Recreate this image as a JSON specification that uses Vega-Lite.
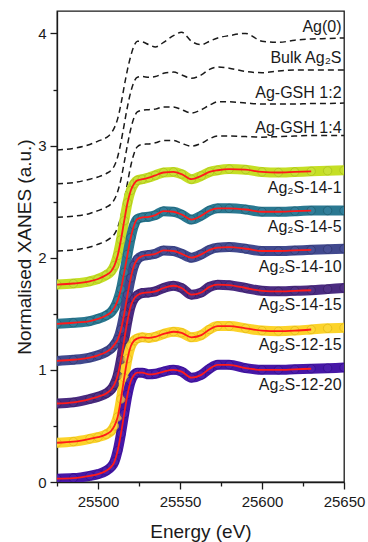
{
"$schema": "https://vega.github.io/schema/vega-lite/v6.json",
"width": 287, "height": 471,
"autosize": {"type": "none"},
"padding": {"left": 57, "top": 11, "right": 24, "bottom": 60},
"config": {
 "view": {"stroke": "#1a1a1a", "strokeWidth": 1.3},
 "axis": {"domainColor": "#1a1a1a", "domainWidth": 1.3, "tickColor": "#1a1a1a", "tickWidth": 1.3, "labelFont": "Liberation Sans", "labelFontSize": 15, "labelColor": "#1a1a1a", "titleFont": "Liberation Sans", "titleFontSize": 19, "titleFontWeight": "normal", "titleColor": "#1a1a1a", "grid": false}
},
"datasets": {
 "curves": [
{"s":"Ag(0)","E":25475,"y":2.96},{"s":"Ag(0)","E":25485,"y":2.975},{"s":"Ag(0)","E":25495,"y":3.01},{"s":"Ag(0)","E":25500,"y":3.04},{"s":"Ag(0)","E":25505,"y":3.07},{"s":"Ag(0)","E":25508,"y":3.11},{"s":"Ag(0)","E":25510,"y":3.16},{"s":"Ag(0)","E":25512,"y":3.24},{"s":"Ag(0)","E":25514,"y":3.37},{"s":"Ag(0)","E":25516,"y":3.53},{"s":"Ag(0)","E":25518,"y":3.68},{"s":"Ag(0)","E":25520,"y":3.80},{"s":"Ag(0)","E":25522,"y":3.89},{"s":"Ag(0)","E":25524,"y":3.93},{"s":"Ag(0)","E":25527,"y":3.925},{"s":"Ag(0)","E":25531,"y":3.90},{"s":"Ag(0)","E":25535,"y":3.88},{"s":"Ag(0)","E":25540,"y":3.92},{"s":"Ag(0)","E":25546,"y":3.98},{"s":"Ag(0)","E":25551,"y":4.01},{"s":"Ag(0)","E":25557,"y":3.93},{"s":"Ag(0)","E":25563,"y":3.90},{"s":"Ag(0)","E":25568,"y":3.93},{"s":"Ag(0)","E":25573,"y":3.96},{"s":"Ag(0)","E":25580,"y":3.98},{"s":"Ag(0)","E":25590,"y":4.00},{"s":"Ag(0)","E":25600,"y":3.93},{"s":"Ag(0)","E":25610,"y":3.92},{"s":"Ag(0)","E":25620,"y":3.94},{"s":"Ag(0)","E":25630,"y":3.95},{"s":"Ag(0)","E":25640,"y":3.955},{"s":"Ag(0)","E":25650,"y":3.96},
{"s":"Bulk Ag₂S","E":25475,"y":2.66},{"s":"Bulk Ag₂S","E":25485,"y":2.67},{"s":"Bulk Ag₂S","E":25495,"y":2.70},{"s":"Bulk Ag₂S","E":25500,"y":2.72},{"s":"Bulk Ag₂S","E":25505,"y":2.75},{"s":"Bulk Ag₂S","E":25508,"y":2.78},{"s":"Bulk Ag₂S","E":25510,"y":2.82},{"s":"Bulk Ag₂S","E":25512,"y":2.90},{"s":"Bulk Ag₂S","E":25514,"y":3.03},{"s":"Bulk Ag₂S","E":25516,"y":3.19},{"s":"Bulk Ag₂S","E":25518,"y":3.35},{"s":"Bulk Ag₂S","E":25520,"y":3.48},{"s":"Bulk Ag₂S","E":25522,"y":3.57},{"s":"Bulk Ag₂S","E":25524,"y":3.61},{"s":"Bulk Ag₂S","E":25527,"y":3.615},{"s":"Bulk Ag₂S","E":25531,"y":3.61},{"s":"Bulk Ag₂S","E":25535,"y":3.615},{"s":"Bulk Ag₂S","E":25540,"y":3.645},{"s":"Bulk Ag₂S","E":25546,"y":3.655},{"s":"Bulk Ag₂S","E":25551,"y":3.63},{"s":"Bulk Ag₂S","E":25557,"y":3.60},{"s":"Bulk Ag₂S","E":25563,"y":3.63},{"s":"Bulk Ag₂S","E":25568,"y":3.68},{"s":"Bulk Ag₂S","E":25573,"y":3.70},{"s":"Bulk Ag₂S","E":25580,"y":3.69},{"s":"Bulk Ag₂S","E":25590,"y":3.66},{"s":"Bulk Ag₂S","E":25600,"y":3.65},{"s":"Bulk Ag₂S","E":25610,"y":3.665},{"s":"Bulk Ag₂S","E":25620,"y":3.675},{"s":"Bulk Ag₂S","E":25630,"y":3.675},{"s":"Bulk Ag₂S","E":25640,"y":3.675},{"s":"Bulk Ag₂S","E":25650,"y":3.675},
{"s":"Ag-GSH 1:2","E":25475,"y":2.36},{"s":"Ag-GSH 1:2","E":25485,"y":2.37},{"s":"Ag-GSH 1:2","E":25495,"y":2.395},{"s":"Ag-GSH 1:2","E":25500,"y":2.42},{"s":"Ag-GSH 1:2","E":25505,"y":2.45},{"s":"Ag-GSH 1:2","E":25508,"y":2.48},{"s":"Ag-GSH 1:2","E":25510,"y":2.52},{"s":"Ag-GSH 1:2","E":25512,"y":2.59},{"s":"Ag-GSH 1:2","E":25514,"y":2.70},{"s":"Ag-GSH 1:2","E":25516,"y":2.85},{"s":"Ag-GSH 1:2","E":25518,"y":3.01},{"s":"Ag-GSH 1:2","E":25520,"y":3.15},{"s":"Ag-GSH 1:2","E":25522,"y":3.25},{"s":"Ag-GSH 1:2","E":25524,"y":3.30},{"s":"Ag-GSH 1:2","E":25527,"y":3.315},{"s":"Ag-GSH 1:2","E":25531,"y":3.32},{"s":"Ag-GSH 1:2","E":25535,"y":3.325},{"s":"Ag-GSH 1:2","E":25540,"y":3.345},{"s":"Ag-GSH 1:2","E":25546,"y":3.345},{"s":"Ag-GSH 1:2","E":25551,"y":3.32},{"s":"Ag-GSH 1:2","E":25557,"y":3.29},{"s":"Ag-GSH 1:2","E":25563,"y":3.32},{"s":"Ag-GSH 1:2","E":25568,"y":3.36},{"s":"Ag-GSH 1:2","E":25573,"y":3.39},{"s":"Ag-GSH 1:2","E":25580,"y":3.39},{"s":"Ag-GSH 1:2","E":25590,"y":3.38},{"s":"Ag-GSH 1:2","E":25600,"y":3.37},{"s":"Ag-GSH 1:2","E":25610,"y":3.37},{"s":"Ag-GSH 1:2","E":25620,"y":3.37},{"s":"Ag-GSH 1:2","E":25630,"y":3.375},{"s":"Ag-GSH 1:2","E":25640,"y":3.375},{"s":"Ag-GSH 1:2","E":25650,"y":3.38},
{"s":"Ag-GSH 1:4","E":25475,"y":2.06},{"s":"Ag-GSH 1:4","E":25485,"y":2.07},{"s":"Ag-GSH 1:4","E":25495,"y":2.095},{"s":"Ag-GSH 1:4","E":25500,"y":2.12},{"s":"Ag-GSH 1:4","E":25505,"y":2.15},{"s":"Ag-GSH 1:4","E":25508,"y":2.18},{"s":"Ag-GSH 1:4","E":25510,"y":2.21},{"s":"Ag-GSH 1:4","E":25512,"y":2.27},{"s":"Ag-GSH 1:4","E":25514,"y":2.37},{"s":"Ag-GSH 1:4","E":25516,"y":2.51},{"s":"Ag-GSH 1:4","E":25518,"y":2.67},{"s":"Ag-GSH 1:4","E":25520,"y":2.82},{"s":"Ag-GSH 1:4","E":25522,"y":2.93},{"s":"Ag-GSH 1:4","E":25524,"y":2.99},{"s":"Ag-GSH 1:4","E":25527,"y":3.01},{"s":"Ag-GSH 1:4","E":25531,"y":3.015},{"s":"Ag-GSH 1:4","E":25535,"y":3.025},{"s":"Ag-GSH 1:4","E":25540,"y":3.045},{"s":"Ag-GSH 1:4","E":25546,"y":3.045},{"s":"Ag-GSH 1:4","E":25551,"y":3.02},{"s":"Ag-GSH 1:4","E":25557,"y":2.995},{"s":"Ag-GSH 1:4","E":25563,"y":3.02},{"s":"Ag-GSH 1:4","E":25568,"y":3.06},{"s":"Ag-GSH 1:4","E":25573,"y":3.085},{"s":"Ag-GSH 1:4","E":25580,"y":3.085},{"s":"Ag-GSH 1:4","E":25590,"y":3.08},{"s":"Ag-GSH 1:4","E":25600,"y":3.075},{"s":"Ag-GSH 1:4","E":25610,"y":3.08},{"s":"Ag-GSH 1:4","E":25620,"y":3.085},{"s":"Ag-GSH 1:4","E":25630,"y":3.09},{"s":"Ag-GSH 1:4","E":25640,"y":3.09},{"s":"Ag-GSH 1:4","E":25650,"y":3.09},
{"s":"Ag₂S-14-1","E":25475,"y":1.76},{"s":"Ag₂S-14-1","E":25485,"y":1.77},{"s":"Ag₂S-14-1","E":25495,"y":1.79},{"s":"Ag₂S-14-1","E":25500,"y":1.81},{"s":"Ag₂S-14-1","E":25505,"y":1.845},{"s":"Ag₂S-14-1","E":25508,"y":1.88},{"s":"Ag₂S-14-1","E":25510,"y":1.93},{"s":"Ag₂S-14-1","E":25512,"y":2.02},{"s":"Ag₂S-14-1","E":25514,"y":2.16},{"s":"Ag₂S-14-1","E":25516,"y":2.33},{"s":"Ag₂S-14-1","E":25518,"y":2.49},{"s":"Ag₂S-14-1","E":25520,"y":2.60},{"s":"Ag₂S-14-1","E":25522,"y":2.66},{"s":"Ag₂S-14-1","E":25524,"y":2.69},{"s":"Ag₂S-14-1","E":25527,"y":2.70},{"s":"Ag₂S-14-1","E":25531,"y":2.715},{"s":"Ag₂S-14-1","E":25535,"y":2.735},{"s":"Ag₂S-14-1","E":25540,"y":2.76},{"s":"Ag₂S-14-1","E":25546,"y":2.765},{"s":"Ag₂S-14-1","E":25551,"y":2.745},{"s":"Ag₂S-14-1","E":25557,"y":2.70},{"s":"Ag₂S-14-1","E":25563,"y":2.73},{"s":"Ag₂S-14-1","E":25568,"y":2.765},{"s":"Ag₂S-14-1","E":25573,"y":2.78},{"s":"Ag₂S-14-1","E":25580,"y":2.79},{"s":"Ag₂S-14-1","E":25590,"y":2.785},{"s":"Ag₂S-14-1","E":25600,"y":2.765},{"s":"Ag₂S-14-1","E":25610,"y":2.76},{"s":"Ag₂S-14-1","E":25620,"y":2.765},{"s":"Ag₂S-14-1","E":25630,"y":2.77},{"s":"Ag₂S-14-1","E":25640,"y":2.775},{"s":"Ag₂S-14-1","E":25650,"y":2.78},
{"s":"Ag₂S-14-5","E":25475,"y":1.41},{"s":"Ag₂S-14-5","E":25485,"y":1.42},{"s":"Ag₂S-14-5","E":25495,"y":1.435},{"s":"Ag₂S-14-5","E":25500,"y":1.455},{"s":"Ag₂S-14-5","E":25505,"y":1.485},{"s":"Ag₂S-14-5","E":25508,"y":1.515},{"s":"Ag₂S-14-5","E":25510,"y":1.555},{"s":"Ag₂S-14-5","E":25512,"y":1.62},{"s":"Ag₂S-14-5","E":25514,"y":1.72},{"s":"Ag₂S-14-5","E":25516,"y":1.87},{"s":"Ag₂S-14-5","E":25518,"y":2.03},{"s":"Ag₂S-14-5","E":25520,"y":2.18},{"s":"Ag₂S-14-5","E":25522,"y":2.29},{"s":"Ag₂S-14-5","E":25524,"y":2.345},{"s":"Ag₂S-14-5","E":25527,"y":2.36},{"s":"Ag₂S-14-5","E":25531,"y":2.365},{"s":"Ag₂S-14-5","E":25535,"y":2.38},{"s":"Ag₂S-14-5","E":25540,"y":2.415},{"s":"Ag₂S-14-5","E":25546,"y":2.41},{"s":"Ag₂S-14-5","E":25551,"y":2.385},{"s":"Ag₂S-14-5","E":25557,"y":2.34},{"s":"Ag₂S-14-5","E":25563,"y":2.375},{"s":"Ag₂S-14-5","E":25568,"y":2.42},{"s":"Ag₂S-14-5","E":25573,"y":2.44},{"s":"Ag₂S-14-5","E":25580,"y":2.44},{"s":"Ag₂S-14-5","E":25590,"y":2.43},{"s":"Ag₂S-14-5","E":25600,"y":2.41},{"s":"Ag₂S-14-5","E":25610,"y":2.41},{"s":"Ag₂S-14-5","E":25620,"y":2.415},{"s":"Ag₂S-14-5","E":25630,"y":2.42},{"s":"Ag₂S-14-5","E":25640,"y":2.42},{"s":"Ag₂S-14-5","E":25650,"y":2.42},
{"s":"Ag₂S-14-10","E":25475,"y":1.08},{"s":"Ag₂S-14-10","E":25485,"y":1.09},{"s":"Ag₂S-14-10","E":25495,"y":1.11},{"s":"Ag₂S-14-10","E":25500,"y":1.13},{"s":"Ag₂S-14-10","E":25505,"y":1.16},{"s":"Ag₂S-14-10","E":25508,"y":1.19},{"s":"Ag₂S-14-10","E":25510,"y":1.225},{"s":"Ag₂S-14-10","E":25512,"y":1.27},{"s":"Ag₂S-14-10","E":25514,"y":1.36},{"s":"Ag₂S-14-10","E":25516,"y":1.50},{"s":"Ag₂S-14-10","E":25518,"y":1.67},{"s":"Ag₂S-14-10","E":25520,"y":1.82},{"s":"Ag₂S-14-10","E":25522,"y":1.93},{"s":"Ag₂S-14-10","E":25524,"y":1.985},{"s":"Ag₂S-14-10","E":25527,"y":2.015},{"s":"Ag₂S-14-10","E":25531,"y":2.025},{"s":"Ag₂S-14-10","E":25535,"y":2.035},{"s":"Ag₂S-14-10","E":25540,"y":2.065},{"s":"Ag₂S-14-10","E":25546,"y":2.06},{"s":"Ag₂S-14-10","E":25551,"y":2.035},{"s":"Ag₂S-14-10","E":25557,"y":2.0},{"s":"Ag₂S-14-10","E":25563,"y":2.03},{"s":"Ag₂S-14-10","E":25568,"y":2.07},{"s":"Ag₂S-14-10","E":25573,"y":2.09},{"s":"Ag₂S-14-10","E":25580,"y":2.095},{"s":"Ag₂S-14-10","E":25590,"y":2.08},{"s":"Ag₂S-14-10","E":25600,"y":2.06},{"s":"Ag₂S-14-10","E":25610,"y":2.06},{"s":"Ag₂S-14-10","E":25620,"y":2.065},{"s":"Ag₂S-14-10","E":25630,"y":2.07},{"s":"Ag₂S-14-10","E":25640,"y":2.075},{"s":"Ag₂S-14-10","E":25650,"y":2.08},
{"s":"Ag₂S-14-15","E":25475,"y":0.70},{"s":"Ag₂S-14-15","E":25485,"y":0.71},{"s":"Ag₂S-14-15","E":25495,"y":0.74},{"s":"Ag₂S-14-15","E":25500,"y":0.76},{"s":"Ag₂S-14-15","E":25505,"y":0.79},{"s":"Ag₂S-14-15","E":25508,"y":0.825},{"s":"Ag₂S-14-15","E":25510,"y":0.87},{"s":"Ag₂S-14-15","E":25512,"y":0.95},{"s":"Ag₂S-14-15","E":25514,"y":1.09},{"s":"Ag₂S-14-15","E":25516,"y":1.27},{"s":"Ag₂S-14-15","E":25518,"y":1.44},{"s":"Ag₂S-14-15","E":25520,"y":1.57},{"s":"Ag₂S-14-15","E":25522,"y":1.635},{"s":"Ag₂S-14-15","E":25524,"y":1.665},{"s":"Ag₂S-14-15","E":25527,"y":1.685},{"s":"Ag₂S-14-15","E":25531,"y":1.69},{"s":"Ag₂S-14-15","E":25535,"y":1.70},{"s":"Ag₂S-14-15","E":25540,"y":1.73},{"s":"Ag₂S-14-15","E":25546,"y":1.75},{"s":"Ag₂S-14-15","E":25551,"y":1.73},{"s":"Ag₂S-14-15","E":25557,"y":1.67},{"s":"Ag₂S-14-15","E":25563,"y":1.69},{"s":"Ag₂S-14-15","E":25568,"y":1.74},{"s":"Ag₂S-14-15","E":25573,"y":1.76},{"s":"Ag₂S-14-15","E":25580,"y":1.755},{"s":"Ag₂S-14-15","E":25590,"y":1.73},{"s":"Ag₂S-14-15","E":25600,"y":1.705},{"s":"Ag₂S-14-15","E":25610,"y":1.70},{"s":"Ag₂S-14-15","E":25620,"y":1.705},{"s":"Ag₂S-14-15","E":25630,"y":1.71},{"s":"Ag₂S-14-15","E":25640,"y":1.72},{"s":"Ag₂S-14-15","E":25650,"y":1.73},
{"s":"Ag₂S-12-15","E":25475,"y":0.35},{"s":"Ag₂S-12-15","E":25485,"y":0.36},{"s":"Ag₂S-12-15","E":25495,"y":0.385},{"s":"Ag₂S-12-15","E":25500,"y":0.40},{"s":"Ag₂S-12-15","E":25505,"y":0.425},{"s":"Ag₂S-12-15","E":25508,"y":0.455},{"s":"Ag₂S-12-15","E":25510,"y":0.50},{"s":"Ag₂S-12-15","E":25512,"y":0.58},{"s":"Ag₂S-12-15","E":25514,"y":0.74},{"s":"Ag₂S-12-15","E":25516,"y":0.93},{"s":"Ag₂S-12-15","E":25518,"y":1.10},{"s":"Ag₂S-12-15","E":25520,"y":1.21},{"s":"Ag₂S-12-15","E":25522,"y":1.26},{"s":"Ag₂S-12-15","E":25524,"y":1.28},{"s":"Ag₂S-12-15","E":25527,"y":1.29},{"s":"Ag₂S-12-15","E":25531,"y":1.285},{"s":"Ag₂S-12-15","E":25535,"y":1.295},{"s":"Ag₂S-12-15","E":25540,"y":1.32},{"s":"Ag₂S-12-15","E":25546,"y":1.34},{"s":"Ag₂S-12-15","E":25551,"y":1.33},{"s":"Ag₂S-12-15","E":25557,"y":1.29},{"s":"Ag₂S-12-15","E":25563,"y":1.31},{"s":"Ag₂S-12-15","E":25568,"y":1.36},{"s":"Ag₂S-12-15","E":25573,"y":1.39},{"s":"Ag₂S-12-15","E":25580,"y":1.39},{"s":"Ag₂S-12-15","E":25590,"y":1.37},{"s":"Ag₂S-12-15","E":25600,"y":1.35},{"s":"Ag₂S-12-15","E":25610,"y":1.345},{"s":"Ag₂S-12-15","E":25620,"y":1.35},{"s":"Ag₂S-12-15","E":25630,"y":1.36},{"s":"Ag₂S-12-15","E":25640,"y":1.37},{"s":"Ag₂S-12-15","E":25650,"y":1.375},
{"s":"Ag₂S-12-20","E":25475,"y":0.03},{"s":"Ag₂S-12-20","E":25485,"y":0.035},{"s":"Ag₂S-12-20","E":25495,"y":0.055},{"s":"Ag₂S-12-20","E":25500,"y":0.07},{"s":"Ag₂S-12-20","E":25505,"y":0.10},{"s":"Ag₂S-12-20","E":25508,"y":0.135},{"s":"Ag₂S-12-20","E":25510,"y":0.18},{"s":"Ag₂S-12-20","E":25512,"y":0.28},{"s":"Ag₂S-12-20","E":25514,"y":0.43},{"s":"Ag₂S-12-20","E":25516,"y":0.61},{"s":"Ag₂S-12-20","E":25518,"y":0.78},{"s":"Ag₂S-12-20","E":25520,"y":0.90},{"s":"Ag₂S-12-20","E":25522,"y":0.955},{"s":"Ag₂S-12-20","E":25524,"y":0.975},{"s":"Ag₂S-12-20","E":25527,"y":0.975},{"s":"Ag₂S-12-20","E":25531,"y":0.96},{"s":"Ag₂S-12-20","E":25535,"y":0.965},{"s":"Ag₂S-12-20","E":25540,"y":0.985},{"s":"Ag₂S-12-20","E":25546,"y":1.0},{"s":"Ag₂S-12-20","E":25551,"y":0.985},{"s":"Ag₂S-12-20","E":25557,"y":0.93},{"s":"Ag₂S-12-20","E":25563,"y":0.955},{"s":"Ag₂S-12-20","E":25568,"y":1.01},{"s":"Ag₂S-12-20","E":25573,"y":1.045},{"s":"Ag₂S-12-20","E":25580,"y":1.045},{"s":"Ag₂S-12-20","E":25590,"y":1.015},{"s":"Ag₂S-12-20","E":25600,"y":1.0},{"s":"Ag₂S-12-20","E":25610,"y":1.0},{"s":"Ag₂S-12-20","E":25620,"y":1.005},{"s":"Ag₂S-12-20","E":25630,"y":1.01},{"s":"Ag₂S-12-20","E":25640,"y":1.015},{"s":"Ag₂S-12-20","E":25650,"y":1.02}
 ],
 "annot": [
  {"name":"Ag(0)","ly":4.01},{"name":"Bulk Ag₂S","ly":3.74},{"name":"Ag-GSH 1:2","ly":3.42},{"name":"Ag-GSH 1:4","ly":3.11},
  {"name":"Ag₂S-14-1","ly":2.574},{"name":"Ag₂S-14-5","ly":2.23},{"name":"Ag₂S-14-10","ly":1.875},{"name":"Ag₂S-14-15","ly":1.53},{"name":"Ag₂S-12-15","ly":1.175},{"name":"Ag₂S-12-20","ly":0.82}
 ]
},
"layer": [
 {"data": {"name": "curves"},
  "transform": [{"filter": {"field": "s", "oneOf": ["Ag(0)", "Bulk Ag₂S", "Ag-GSH 1:2", "Ag-GSH 1:4"]}}],
  "mark": {"type": "line", "color": "#1a1a1a", "strokeWidth": 1.5, "strokeDash": [6, 4], "interpolate": "monotone", "clip": true},
  "encoding": {
   "x": {"field": "E", "type": "quantitative", "scale": {"domain": [25475, 25650], "nice": false, "zero": false},
     "axis": {"title": "Energy (eV)", "values": [25475,25500,25525,25550,25575,25600,25625,25650], "labelExpr": "datum.value % 50 === 0 ? format(datum.value, 'd') : ''", "tickSize": {"condition": {"test": "datum.value % 50 === 0", "value": 7}, "value": 4}, "labelPadding": 5, "titlePadding": 13, "labelFlush": false, "labelOverlap": false}},
   "y": {"field": "y", "type": "quantitative", "scale": {"domain": [0, 4.2], "nice": false, "zero": false},
     "axis": {"title": "Normalised XANES (a.u.)", "values": [0,0.5,1,1.5,2,2.5,3,3.5,4], "labelExpr": "datum.value % 1 === 0 ? format(datum.value, 'd') : ''", "tickSize": {"condition": {"test": "datum.value % 1 === 0", "value": 7}, "value": 4}, "labelPadding": 4, "titlePadding": 3, "labelFlush": false, "labelOverlap": false}},
   "detail": {"field": "s"}}},
 {"data": {"name": "curves"},
  "transform": [{"filter": {"field": "s", "oneOf": ["Ag₂S-14-1","Ag₂S-14-5","Ag₂S-14-10","Ag₂S-14-15","Ag₂S-12-15","Ag₂S-12-20"]}}],
  "mark": {"type": "line", "strokeWidth": 10, "strokeCap": "round", "interpolate": "monotone", "clip": true},
  "encoding": {
   "x": {"field": "E", "type": "quantitative"},
   "y": {"field": "y", "type": "quantitative"},
   "color": {"field": "s", "type": "nominal", "legend": null,
     "scale": {"domain": ["Ag₂S-14-1","Ag₂S-14-5","Ag₂S-14-10","Ag₂S-14-15","Ag₂S-12-15","Ag₂S-12-20"], "range": ["#c5df25","#2a7891","#41498e","#4a2b80","#fcd32a","#4617a6"]}}}},
 {"data": {"name": "curves"},
  "transform": [{"filter": {"field": "s", "oneOf": ["Ag₂S-14-1","Ag₂S-14-5","Ag₂S-14-10","Ag₂S-14-15","Ag₂S-12-15","Ag₂S-12-20"]}}],
  "mark": {"type": "point", "shape": "circle", "filled": false, "size": 70, "strokeWidth": 1, "clip": true},
  "encoding": {
    "x": {"field": "E", "type": "quantitative"},
    "y": {"field": "y", "type": "quantitative"},
    "fill": {"field": "s", "type": "nominal", "legend": null, "scale": {"domain": ["Ag₂S-14-1","Ag₂S-14-5","Ag₂S-14-10","Ag₂S-14-15","Ag₂S-12-15","Ag₂S-12-20"], "range": ["#cbe33c","#3683a0","#4b539a","#553589","#fdd93f","#5023b0"]}},
    "stroke": {"field": "s", "type": "nominal", "legend": null, "scale": {"domain": ["Ag₂S-14-1","Ag₂S-14-5","Ag₂S-14-10","Ag₂S-14-15","Ag₂S-12-15","Ag₂S-12-20"], "range": ["#a8c01c","#1f5d70","#2f366e","#371f63","#e0b814","#33108a"]}}}},
 {"data": {"name": "curves"},
  "transform": [{"filter": {"field": "s", "oneOf": ["Ag₂S-14-1","Ag₂S-14-5","Ag₂S-14-10","Ag₂S-14-15","Ag₂S-12-15","Ag₂S-12-20"]}}, {"filter": "datum.E <= 25630"}],
  "mark": {"type": "line", "color": "#ff1a1a", "strokeWidth": 1.8, "interpolate": "monotone", "clip": true},
  "encoding": {
   "x": {"field": "E", "type": "quantitative"},
   "y": {"field": "y", "type": "quantitative"},
   "detail": {"field": "s"}}},
 {"data": {"name": "annot"},
  "mark": {"type": "text", "align": "right", "baseline": "alphabetic", "font": "Liberation Sans", "fontSize": 16, "fill": "#1a1a1a"},
  "encoding": {
   "x": {"datum": 25648.5, "type": "quantitative"},
   "y": {"field": "ly", "type": "quantitative"},
   "text": {"field": "name", "type": "nominal"}}}
]
}
